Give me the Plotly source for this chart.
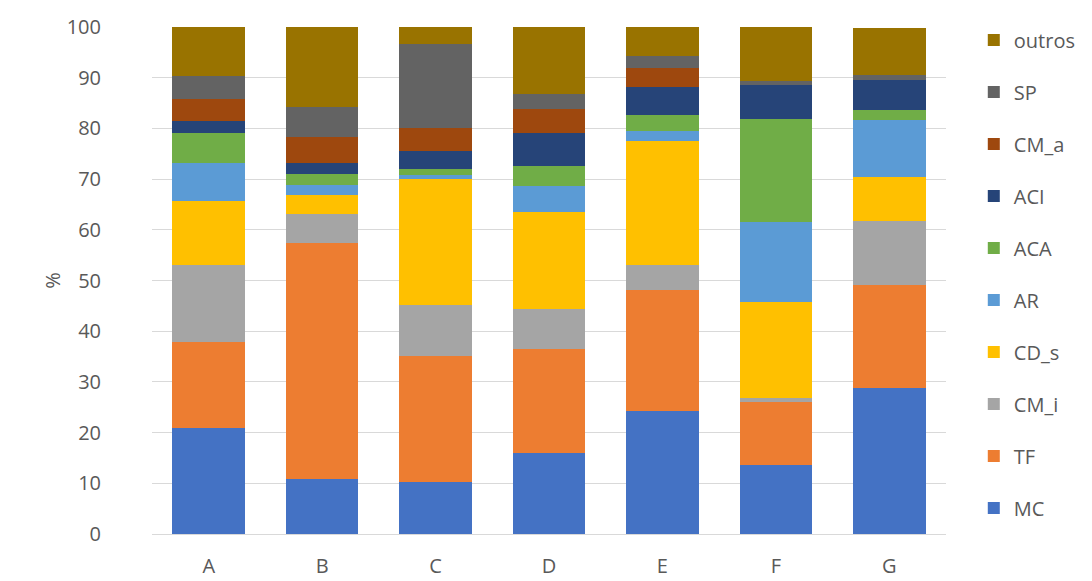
import plotly.graph_objects as go

categories = ["A", "B", "C", "D", "E", "F", "G"]

# Stacked shares (%) per category, bottom to top
MC     = [20.9, 10.8, 10.2, 16.0, 24.2, 13.7, 28.8]
TF     = [16.9, 46.6, 25.0, 20.4, 24.0, 12.3, 20.4]
CM_i   = [15.3,  5.7,  9.9,  8.0,  4.9,  0.9, 12.5]
CD_s   = [12.5,  3.7, 25.0, 19.1, 24.5, 18.9,  8.8]
AR     = [ 7.6,  2.1,  0.8,  5.1,  1.8, 15.7, 11.2]
ACA    = [ 5.9,  2.1,  1.0,  3.9,  3.3, 20.3,  2.0]
ACI    = [ 2.4,  2.2,  3.6,  6.5,  5.4,  6.7,  5.9]
CM_a   = [ 4.3,  5.2,  4.6,  4.8,  3.9,  0.0,  0.0]
SP     = [ 4.6,  5.9, 16.6,  3.0,  2.2,  0.8,  0.9]
outros = [ 9.6, 15.7,  3.3, 13.2,  5.8, 10.7,  9.4]

y_ticks = [0, 10, 20, 30, 40, 50, 60, 70, 80, 90, 100]

series = [
    ("MC", MC, "#4472C4"),
    ("TF", TF, "#ED7D31"),
    ("CM_i", CM_i, "#A5A5A5"),
    ("CD_s", CD_s, "#FFC000"),
    ("AR", AR, "#5B9BD5"),
    ("ACA", ACA, "#70AD47"),
    ("ACI", ACI, "#264478"),
    ("CM_a", CM_a, "#9E480E"),
    ("SP", SP, "#636363"),
    ("outros", outros, "#997300"),
]

text_color = "#595959"
font_family = "Open Sans, sans-serif"

fig = go.Figure()
n = len(series)
for i, (name, vals, color) in enumerate(series):
    fig.add_trace(go.Bar(
        x=categories, y=vals, name=name,
        legendgroup=name,
        legendrank=n - i,  # top of the stack listed first
        marker=dict(color=color, line=dict(width=0)),
    ))

fig.update_layout(
    width=1092, height=581,
    barmode="stack",
    bargap=0.36,
    plot_bgcolor="white",
    paper_bgcolor="white",
    margin=dict(l=152, r=146, t=27, b=47, autoexpand=False),
    font=dict(family=font_family, size=20, color=text_color),
    legend=dict(
        traceorder="grouped",
        tracegroupgap=23,
        x=1.035, xanchor="left",
        y=1.013, yanchor="top",
        maxheight=581,
        font=dict(size=20, color=text_color),
        itemwidth=30,
    ),
    xaxis=dict(
        showgrid=False, automargin=False,
        showline=True, linecolor="#d9d9d9", linewidth=1,
        ticks="", ticklabelstandoff=14,
        tickfont=dict(size=20, color=text_color),
    ),
    yaxis=dict(
        range=[0, 100], automargin=False,
        tickvals=y_ticks,
        showgrid=True, gridcolor="#d9d9d9", gridwidth=1,
        zeroline=False, showline=False,
        ticks="", ticklabelstandoff=50,
        tickfont=dict(size=20, color=text_color),
        title=dict(text="%", font=dict(size=20, color=text_color), standoff=0),
    ),
)

fig.write_html("out.html")
